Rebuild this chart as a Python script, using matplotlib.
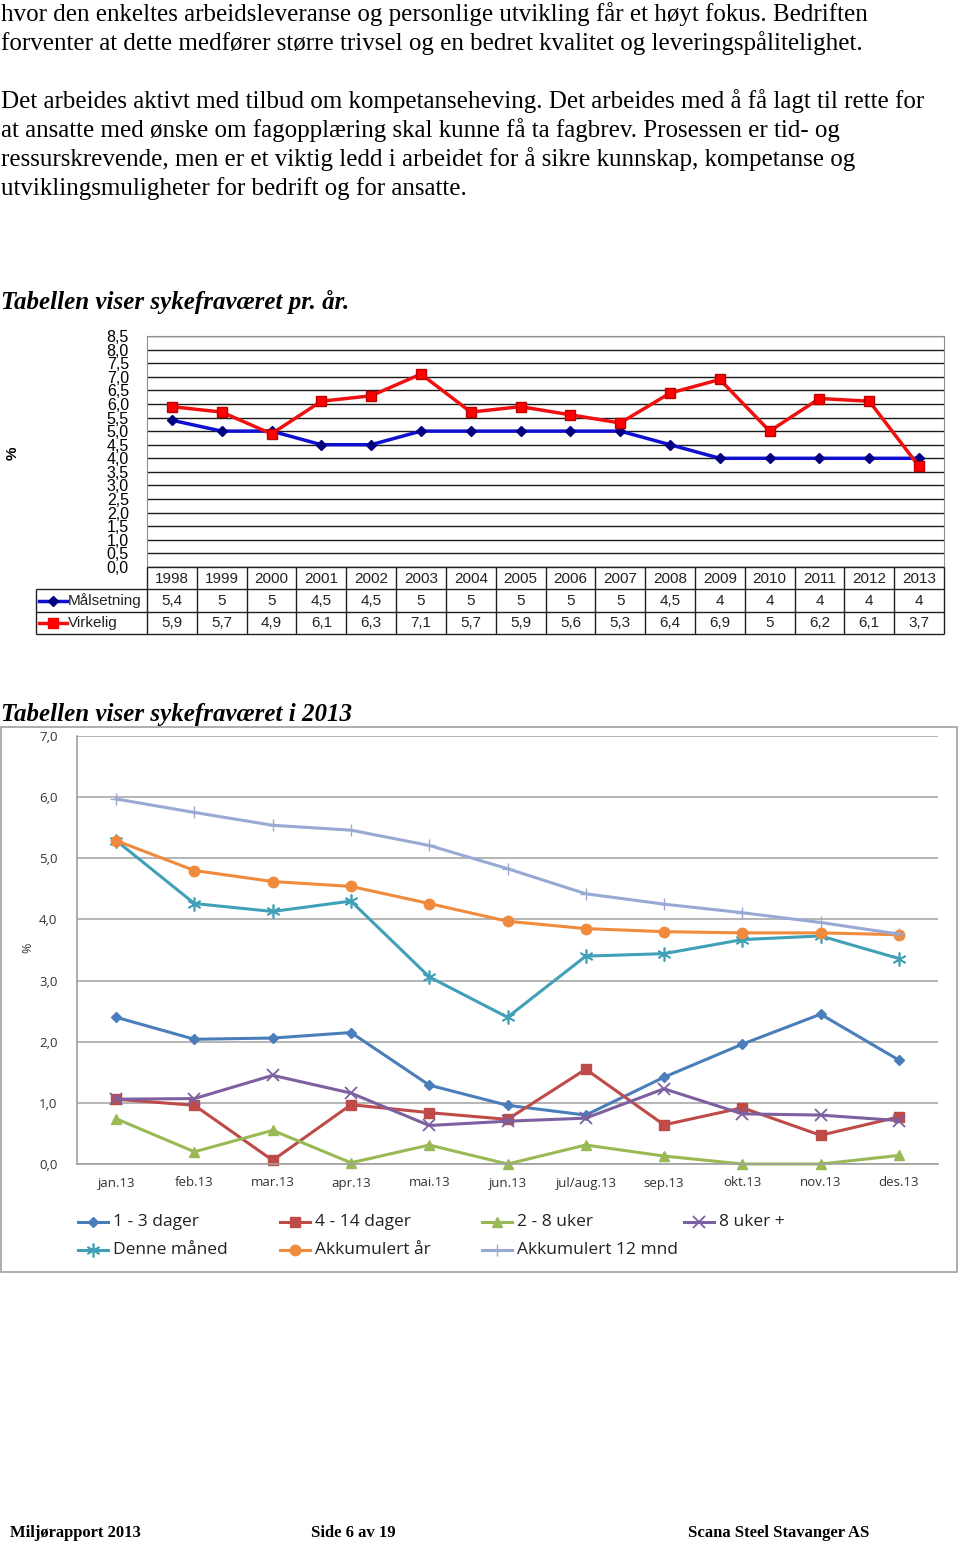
import matplotlib.pyplot as plt
from matplotlib.lines import Line2D
from matplotlib.patches import Rectangle

W, H = 960, 1542

# tekst på siden
body_lines = [
    "hvor den enkeltes arbeidsleveranse og personlige utvikling får et høyt fokus. Bedriften",
    "forventer at dette medfører større trivsel og en bedret kvalitet og leveringspålitelighet.",
    "",
    "Det arbeides aktivt med tilbud om kompetanseheving. Det arbeides med å få lagt til rette for",
    "at ansatte med ønske om fagopplæring skal kunne få ta fagbrev. Prosessen er tid- og",
    "ressurskrevende, men er et viktig ledd i arbeidet for å sikre kunnskap, kompetanse og",
    "utviklingsmuligheter for bedrift og for ansatte.",
]
title1 = "Tabellen viser sykefraværet pr. år."
title2 = "Tabellen viser sykefraværet i 2013"
footer = ["Miljørapport 2013", "Side 6 av 19", "Scana Steel Stavanger AS"]

# diagram 1: sykefravær pr. år
years = [1998, 1999, 2000, 2001, 2002, 2003, 2004, 2005, 2006, 2007,
         2008, 2009, 2010, 2011, 2012, 2013]
maal = [5.4, 5, 5, 4.5, 4.5, 5, 5, 5, 5, 5, 4.5, 4, 4, 4, 4, 4]
virkelig = [5.9, 5.7, 4.9, 6.1, 6.3, 7.1, 5.7, 5.9, 5.6, 5.3, 6.4, 6.9, 5, 6.2, 6.1, 3.7]

# diagram 2: sykefravær 2013
months = ["jan.13", "feb.13", "mar.13", "apr.13", "mai.13", "jun.13",
          "jul/aug.13", "sep.13", "okt.13", "nov.13", "des.13"]
d1_3 = [2.40, 2.04, 2.06, 2.15, 1.29, 0.96, 0.80, 1.42, 1.96, 2.45, 1.70]
d4_14 = [1.06, 0.96, 0.06, 0.97, 0.84, 0.73, 1.55, 0.64, 0.92, 0.47, 0.77]
u2_8 = [0.74, 0.20, 0.55, 0.02, 0.31, 0.00, 0.31, 0.13, 0.00, 0.00, 0.14]
u8 = [1.06, 1.07, 1.45, 1.16, 0.63, 0.70, 0.75, 1.23, 0.82, 0.80, 0.71]
denne = [5.29, 4.26, 4.13, 4.30, 3.06, 2.40, 3.40, 3.44, 3.67, 3.73, 3.36]
akk_aar = [5.29, 4.80, 4.62, 4.54, 4.26, 3.97, 3.85, 3.80, 3.78, 3.78, 3.75]
akk_12 = [5.97, 5.75, 5.54, 5.46, 5.21, 4.83, 4.42, 4.25, 4.11, 3.95, 3.76]


def box(x0, y0, x1, y1):
    """piksler (fra øverst til venstre) -> figurkoordinater"""
    return [x0 / W, 1 - y1 / H, (x1 - x0) / W, (y1 - y0) / H]


def fx(x):
    return x / W


def fy(y):
    return 1 - y / H


def komma(v):
    return f"{v:g}".replace(".", ",")


fig = plt.figure(figsize=(W / 100, H / 100), dpi=100)
serif = "Liberation Serif"
sans = "Liberation Sans"

for i, line in enumerate(body_lines):
    fig.text(fx(1), fy(21 + 29 * i), line, fontfamily=serif, fontsize=18, va="baseline")

fig.text(fx(1), fy(309), title1, fontfamily=serif, fontsize=18, fontweight="bold",
         fontstyle="italic", va="baseline")
fig.text(fx(1), fy(721), title2, fontfamily=serif, fontsize=18, fontweight="bold",
         fontstyle="italic", va="baseline")

for txt, x in zip(footer, [10, 311, 688]):
    fig.text(fx(x), fy(1537), txt, fontfamily=serif, fontsize=12, fontweight="bold",
             va="baseline")

# ---------------- diagram 1 ----------------
ax1 = fig.add_axes(box(147, 336, 944, 567))
xs = list(range(len(years)))
ax1.plot(xs, maal, color="#1010D0", lw=2.5, marker="D", markersize=5.5,
         markerfacecolor="#000080", markeredgecolor="#000080", zorder=3)
ax1.plot(xs, virkelig, color="#F01010", lw=2.5, marker="s", markersize=7,
         markerfacecolor="#FF0000", markeredgecolor="#C00000", zorder=4)
ax1.set_xlim(-0.5, len(years) - 0.5)
ax1.set_ylim(0, 8.5)
yt = [i * 0.5 for i in range(18)]
ax1.set_yticks(yt)
ax1.set_yticklabels([f"{v:.1f}".replace(".", ",") for v in yt], fontfamily=sans,
                    fontsize=11.5)
ax1.set_xticks([])
ax1.tick_params(axis="y", length=0, pad=13)
ax1.grid(axis="y", color="#1a1a1a", lw=1.0)
ax1.set_axisbelow(True)
for s in ["top", "left", "right"]:
    ax1.spines[s].set_color("#909090")
ax1.spines["bottom"].set_visible(False)
fig.text(fx(13), fy(453), "%", rotation=90, fontfamily=sans, fontsize=11,
         fontweight="bold", ha="center", va="center")

# tabell under diagram 1
lab_w = (147 - 36) / 49.8
tab = fig.add_axes(box(36, 567, 944, 634))
tab.set_xlim(-0.5 - lab_w, len(years) - 0.5)
tab.set_ylim(3, 0)
tab.axis("off")
left = -0.5 - lab_w
right = len(years) - 0.5
lc = "#202020"
tab.hlines([0], -0.5, right, color=lc, lw=1.0, clip_on=False)
tab.hlines([1, 2, 3], left, right, color=lc, lw=1.0, clip_on=False)
tab.vlines([i - 0.5 for i in range(len(years) + 1)], 0, 3, color=lc, lw=1.0, clip_on=False)
tab.vlines([left], 1, 3, color=lc, lw=1.0, clip_on=False)
for i, yr in enumerate(years):
    tab.text(i, 0.52, str(yr), ha="center", va="center", fontfamily=sans, fontsize=11,
             color="#222222")
    tab.text(i, 1.52, komma(maal[i]), ha="center", va="center", fontfamily=sans,
             fontsize=11, color="#222222")
    tab.text(i, 2.52, komma(virkelig[i]), ha="center", va="center", fontfamily=sans,
             fontsize=11, color="#222222")
for row, name, col, mk, mc, ms in [(1, "Målsetning", "#1010D0", "D", "#000080", 5.5),
                                   (2, "Virkelig", "#F01010", "s", "#FF0000", 7)]:
    tab.plot([left + 0.06, left + 0.62], [row + 0.5] * 2, color=col, lw=2.5, clip_on=False)
    tab.plot([left + 0.35], [row + 0.5], marker=mk, markersize=ms, color=mc, clip_on=False)
    tab.text(left + 0.64, row + 0.52, name, ha="left", va="center", fontfamily=sans,
             fontsize=11, color="#222222")

# ---------------- diagram 2 ----------------
fig.patches.append(Rectangle((fx(1), fy(1272)), fx(956), (1272 - 727) / H,
                             transform=fig.transFigure, fill=False,
                             edgecolor="#A0A0A0", lw=1.2))

series = [
    ("1 - 3 dager", d1_3, "#4A7EBB", dict(marker="D", markersize=5.5)),
    ("4 - 14 dager", d4_14, "#BE4B48", dict(marker="s", markersize=7)),
    ("2 - 8 uker", u2_8, "#98B954", dict(marker="^", markersize=7.5)),
    ("8 uker +", u8, "#7D60A0", dict(marker="x", markersize=8, markeredgewidth=1.3)),
    ("Denne måned", denne, "#40A0B8", dict(marker=(6, 2, 0), markersize=10,
                                           markeredgewidth=1.2)),
    ("Akkumulert år", akk_aar, "#F08A3C", dict(marker="o", markersize=7.5)),
    ("Akkumulert 12 mnd", akk_12, "#98A9D4", dict(marker="+", markersize=9,
                                                  markeredgewidth=1.0)),
]

ax2 = fig.add_axes(box(77, 736, 938, 1164))
mx = list(range(len(months)))
for name, vals, col, mk in series:
    ax2.plot(mx, vals, color=col, lw=2.2, clip_on=False, **mk)
ax2.set_xlim(-0.5, len(months) - 0.5)
ax2.set_ylim(0, 7)
ax2.set_yticks(range(8))
ax2.set_yticklabels([f"{v:.1f}".replace(".", ",") for v in range(8)],
                    fontfamily="Open Sans", fontsize=9.5, color="#333333")
ax2.set_xticks(mx)
ax2.set_xticklabels(months, fontfamily="Open Sans", fontsize=9.5, color="#333333")
ax2.tick_params(axis="y", length=0, pad=14)
ax2.tick_params(axis="x", length=0, pad=9)
ax2.grid(axis="y", color="#A8A8A8", lw=1.2)
ax2.set_axisbelow(True)
ax2.spines["top"].set_visible(False)
ax2.spines["right"].set_visible(False)
ax2.spines["left"].set_color("#A0A0A0")
ax2.spines["bottom"].set_color("#A0A0A0")
ax2.spines["left"].set_linewidth(1.2)
ax2.spines["bottom"].set_linewidth(1.2)
fig.text(fx(28), fy(948), "%", rotation=90, fontfamily="Open Sans", fontsize=9,
         ha="center", va="center", color="#333333")

# forklaring, lagt ut for hånd i to rader
for i, (name, vals, col, mk) in enumerate(series):
    r, c = divmod(i, 4)
    x0 = 78 + 202 * c
    y = 1222 + 28 * r
    fig.lines.append(Line2D([fx(x0), fx(x0 + 30)], [fy(y), fy(y)], color=col, lw=2.2,
                            transform=fig.transFigure))
    fig.lines.append(Line2D([fx(x0 + 15)], [fy(y)], color=col, lw=0,
                            transform=fig.transFigure, **mk))
    fig.text(fx(x0 + 35), fy(y), name, fontfamily="Open Sans", fontsize=12.5,
             va="center", color="#222222")

fig.savefig("out.png", dpi=100, facecolor="white")
